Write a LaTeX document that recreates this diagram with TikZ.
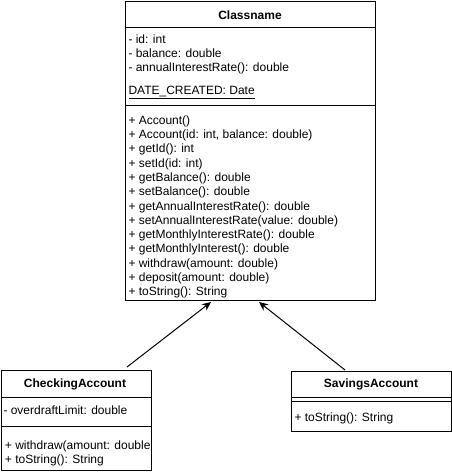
\documentclass[tikz,border=0pt]{standalone}
\usepackage{fontspec}
\setmainfont{Liberation Sans}
\usetikzlibrary{arrows.meta}
\begin{document}
\begin{tikzpicture}[x=1pt,y=-1pt,line width=1pt,
  every node/.style={font=\fontsize{12}{14.3}\selectfont},
  cls/.style={draw,inner sep=0,anchor=north west},
  txt/.style={inner sep=0,anchor=north west,align=left},
  ttl/.style={inner sep=0,font=\fontsize{12}{14.3}\selectfont\bfseries},
  inherit/.style={-{Stealth[length=9pt,width=8pt]}}]
\useasboundingbox (0,0) rectangle (451,474);

% base class
\node[cls,minimum width=250pt,minimum height=299pt] (acc) at (125,1) {};
\draw (125,27) -- (375,27);
\draw (125,105) -- (375,105);
\node[ttl] (accname) at (250,15) {Classname};
\node[txt] (accattr) at (128,34) {- id: int\\- balance: double\\- annualInterestRate(): double};
\node[txt] (accstatic) at (128,86) {\underline{DATE\_CREATED: Date}};
\node[txt] (accops) at (128,115) {+ Account()\\+ Account(id: int, balance: double)\\+ getId(): int\\+ setId(id: int)\\+ getBalance(): double\\+ setBalance(): double\\+ getAnnualInterestRate(): double\\+ setAnnualInterestRate(value: double)\\+ getMonthlyInterestRate(): double\\+ getMonthlyInterest(): double\\+ withdraw(amount: double)\\+ deposit(amount: double)\\+ toString(): String};

% checking
\node[cls,minimum width=150pt,minimum height=100pt] (chk) at (0.5,370) {};
\draw (0.5,397) -- (150.5,397);
\draw (0.5,426) -- (150.5,426);
\node[ttl] (chkname) at (75,384) {CheckingAccount};
\node[txt] (chkattr) at (3,405) {- overdraftLimit: double};
\begin{scope}
\clip (0.5,426) rectangle (149.5,470);
\node[txt] (chkops) at (4.5,440) {+ withdraw(amount: double)\\+ toString(): String};
\end{scope}

% savings
\node[cls,minimum width=159.5pt,minimum height=60pt] (sav) at (291,371) {};
\draw (291,397) -- (450.5,397);
\draw (291,401) -- (450.5,401);
\node[ttl] (savname) at (371,384) {SavingsAccount};
\node[txt] (savops) at (294,412) {+ toString(): String};

% inheritance
\coordinate (chkend) at (127,367);
\coordinate (savend) at (345,370);
\coordinate (accin1) at (211,302);
\coordinate (accin2) at (259,302);
\draw[inherit] (chkend) -- (accin1);
\draw[inherit] (savend) -- (accin2);
\end{tikzpicture}
\end{document}
